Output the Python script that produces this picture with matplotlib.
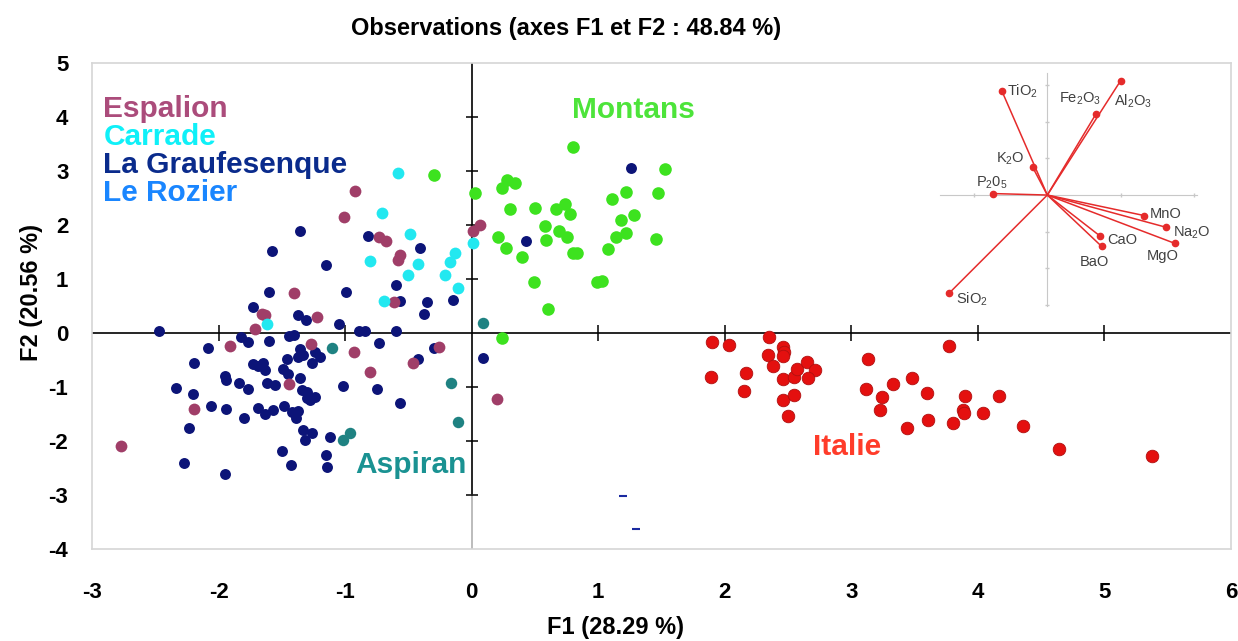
import matplotlib
matplotlib.use("Agg")
import matplotlib.pyplot as plt

plt.rcParams['font.family'] = ['Liberation Sans', 'DejaVu Sans']
plt.rcParams['mathtext.default'] = 'regular'
plt.rcParams['axes.unicode_minus'] = False

# Scores on F1 / F2 per production site
grauf_x = [-1.36, -1.58, -1.15, -0.82, -0.41, -1.60, -0.99, -0.60, -0.57, -0.35, -0.15, -1.73, -1.37, -1.31, -0.38,
           -1.05, -2.47, -0.89, -0.84, -0.60, -1.82, -1.77, -1.60, -1.44, -1.40, -0.73, -2.08, -2.19, -1.36, -1.33,
           -1.37, -1.24, -1.20, -1.26, -1.46, -1.49, -1.45, -1.73, -1.65, -1.63, -1.69, -1.95, -1.94, -1.84, -1.77,
           -2.34, -2.20, -1.62, -1.55, -1.36, -1.34, -1.30, -1.28, -1.24, -1.30, -1.02, -0.75, -0.42, -0.30, -0.57,
           -2.06, -1.94, -1.80, -1.69, -1.63, -1.57, -1.48, -1.42, -1.37, -1.39, -2.23, -1.33, -1.26, -1.32, -1.12,
           -1.50, -1.43, -1.15, -1.14, -2.27, -1.95, 0.09, 1.26, 0.43]
grauf_y = [1.89, 1.52, 1.26, 1.80, 1.57, 0.76, 0.76, 0.88, 0.59, 0.57, 0.61, 0.49, 0.33, 0.25, 0.35,
           0.16, 0.04, 0.04, 0.04, 0.04, -0.07, -0.16, -0.14, -0.06, -0.04, -0.18, -0.28, -0.55, -0.30, -0.41,
           -0.44, -0.35, -0.44, -0.56, -0.49, -0.67, -0.75, -0.57, -0.56, -0.69, -0.62, -0.80, -0.87, -0.92, -1.04,
           -1.02, -1.13, -0.92, -0.96, -0.84, -1.06, -1.09, -1.24, -1.18, -1.21, -0.99, -1.04, -0.49, -0.28, -1.29,
           -1.35, -1.40, -1.58, -1.38, -1.50, -1.43, -1.35, -1.46, -1.44, -1.58, -1.75, -1.80, -1.85, -1.99, -1.93,
           -2.18, -2.44, -2.25, -2.48, -2.41, -2.62, -0.46, 3.05, 1.70]

espalion_x = [-0.92, -1.01, -0.73, -0.68, -0.57, -0.58, -1.40, -0.61, -1.22, -1.63, -1.66, -1.71, 0.07, 0.01,
              -1.91, -1.27, -0.93, -0.80, -0.46, -0.26, -1.44, -2.19, -2.77, 0.20]
espalion_y = [2.63, 2.14, 1.78, 1.70, 1.44, 1.35, 0.75, 0.58, 0.30, 0.33, 0.35, 0.07, 2.00, 1.88,
              -0.24, -0.20, -0.36, -0.72, -0.56, -0.25, -0.94, -1.41, -2.09, -1.23]

carrade_x = [-0.58, -0.71, -0.49, -0.80, -0.42, -0.13, -0.17, -0.21, -0.50, -0.11, -0.69, 0.01, -1.62]
carrade_y = [2.97, 2.23, 1.83, 1.34, 1.28, 1.49, 1.32, 1.07, 1.07, 0.83, 0.59, 1.66, 0.16]

aspiran_x = [-1.10, -0.16, -0.11, -1.02, -0.96, 0.09]
aspiran_y = [-0.28, -0.92, -1.64, -1.98, -1.86, 0.19]

rozier_x = [1.20, 1.30]
rozier_y = [-3.02, -3.63]

montans_x = [-0.30, 0.03, 0.80, 1.53, 1.47, 0.28, 0.34, 0.24, 0.30, 0.50, 0.67, 0.74, 0.78, 0.58, 0.59, 0.69,
             0.75, 0.80, 0.83, 0.21, 0.27, 0.40, 0.49, 0.60, 0.99, 1.03, 1.11, 1.22, 1.18, 1.28, 1.14, 1.22,
             1.08, 1.46, 0.24]
montans_y = [2.93, 2.60, 3.44, 3.03, 2.60, 2.83, 2.78, 2.68, 2.29, 2.31, 2.29, 2.39, 2.20, 1.98, 1.72, 1.88,
             1.78, 1.49, 1.48, 1.78, 1.57, 1.40, 0.95, 0.44, 0.94, 0.96, 2.49, 2.62, 2.09, 2.18, 1.77, 1.86,
             1.56, 1.74, -0.10]

italie_x = [1.90, 2.03, 1.89, 2.17, 2.15, 2.35, 2.34, 2.38, 2.46, 2.47, 2.46, 2.46, 2.55, 2.57, 2.65, 2.71,
            2.66, 2.46, 2.55, 2.50, 3.13, 3.12, 3.24, 3.23, 3.33, 3.48, 3.44, 3.60, 3.61, 3.77, 3.80, 3.90,
            3.88, 3.89, 4.04, 4.17, 4.36, 4.64, 5.38]
italie_y = [-0.16, -0.22, -0.82, -0.74, -1.07, -0.08, -0.40, -0.62, -0.25, -0.35, -0.42, -0.86, -0.82, -0.67,
            -0.53, -0.69, -0.84, -1.24, -1.15, -1.53, -0.48, -1.04, -1.18, -1.43, -0.94, -0.83, -1.75, -1.11,
            -1.62, -0.24, -1.66, -1.17, -1.43, -1.49, -1.49, -1.17, -1.72, -2.15, -2.28]

# Variable loadings for the small correlation biplot
var_names = ['TiO$_2$', 'Al$_2$O$_3$', 'Fe$_2$O$_3$', 'K$_2$O', 'P$_2$0$_5$', 'MnO', 'Na$_2$O', 'MgO', 'CaO',
             'BaO', 'SiO$_2$']
load_x = [-0.31, 0.50, 0.33, -0.10, -0.37, 0.66, 0.81, 0.87, 0.36, 0.37, -0.67]
load_y = [0.71, 0.78, 0.55, 0.19, 0.01, -0.14, -0.22, -0.33, -0.28, -0.35, -0.67]
# label placement: offset in points and alignment
label_pos = [((4, 0), 'left', 'center'), ((9, -15), 'center', 'center'), ((-11, 11), 'center', 'center'),
             ((-6, 6), 'right', 'center'), ((-1, 8), 'center', 'center'), ((4, 1), 'left', 'center'),
             ((5, -4), 'left', 'center'), ((-9, -9), 'center', 'center'), ((5, -3), 'left', 'center'),
             ((-5, -11), 'center', 'center'), ((5, -4), 'left', 'center')]

fig = plt.figure(figsize=(12.38, 6.41), dpi=100)
ax = fig.add_axes([0.0743, 0.1435, 0.92, 0.7582])
ax.set_xlim(-3, 6)
ax.set_ylim(-4, 5)

for sp in ax.spines.values():
    sp.set_color('#d6d6d6')
    sp.set_linewidth(1.2)

ax.set_xticks(range(-3, 7))
ax.set_yticks(range(-4, 6))
ax.tick_params(axis='x', length=0, pad=24, labelsize=16)
ax.tick_params(axis='y', length=0, pad=17, labelsize=16)
for lab in ax.get_xticklabels() + ax.get_yticklabels():
    lab.set_fontweight('bold')

# axes through the origin with cross ticks
ax.plot([-3, 6], [0, 0], color='black', lw=1.2, zorder=1)
ax.plot([0, 0], [-3, 5], color='black', lw=1.2, zorder=1)
ax.plot([0, 0], [-4, -3], color='#b0b0b0', lw=1.2, zorder=1)
xt = [v for v in range(-2, 6) if v != 0]
yt = [v for v in range(-3, 5) if v != 0]
ax.plot(xt, [0] * len(xt), ls='none', marker='|', ms=11, mew=1.1, color='black', zorder=1)
ax.plot([0] * len(yt), yt, ls='none', marker='_', ms=9, mew=1.1, color='black', zorder=1)

ax.scatter(grauf_x, grauf_y, s=62, color='#0c1478', lw=0, zorder=3)
ax.scatter(espalion_x, espalion_y, s=72, color='#a03e68', lw=0, zorder=3)
ax.scatter(carrade_x, carrade_y, s=72, color='#22e8f0', lw=0, zorder=3)
ax.scatter(aspiran_x, aspiran_y, s=68, color='#1f8282', lw=0, zorder=3)
ax.scatter(rozier_x, rozier_y, s=40, marker='_', color='#1a2aa0', lw=1.5, zorder=3)
ax.scatter(montans_x, montans_y, s=82, color='#3de21f', lw=0, zorder=3)
ax.scatter(italie_x, italie_y, s=82, color='#e4100f', edgecolor='#b01010', lw=0.6, zorder=3)

bold = dict(fontsize=21.5, fontweight='bold', va='center', ha='left')
ax.text(-2.91, 4.15, 'Espalion', color='#ab4c7b', **bold)
ax.text(-2.91, 3.63, 'Carrade', color='#0ff0f8', **bold)
ax.text(-2.91, 3.11, 'La Graufesenque', color='#0a2b8c', **bold)
ax.text(-2.91, 2.59, 'Le Rozier', color='#1a86ff', **bold)
ax.text(0.79, 4.13, 'Montans', color='#4de43a', **bold)
ax.text(-0.92, -2.44, 'Aspiran', color='#1a9292', **bold)
ax.text(2.70, -2.11, 'Italie', color='#ff3c2a', **bold)

ax.set_xlabel('F1 (28.29 %)', fontsize=17, fontweight='bold')
ax.set_ylabel('F2 (20.56 %)', fontsize=17, fontweight='bold')
ax.xaxis.set_label_coords(0.46, -0.137)
ax.yaxis.set_label_coords(-0.043, 0.527)

fig.text(566 / 1238, 1 - 28 / 641, 'Observations (axes F1 et F2 : 48.84 %)',
         fontsize=17, fontweight='bold', ha='center', va='center')

# correlation circle inset
ins = fig.add_axes([0.7571, 0.5173, 0.2121, 0.3729])
ins.set_xlim(-0.75, 1.04)
ins.set_ylim(-0.78, 0.85)
ins.axis('off')
ins.plot([-0.73, 1.02], [0, 0], color='#c8c8c8', lw=0.8, zorder=1)
ins.plot([0, 0], [-0.76, 0.83], color='#c8c8c8', lw=0.8, zorder=1)
ins.plot([-0.5, 0.5, 1.0], [0, 0, 0], ls='none', marker='|', ms=3, color='#c8c8c8')
ins.plot([0] * 6, [-0.5, -0.25, 0.25, 0.5, 0.75, -0.75], ls='none', marker='_', ms=3, color='#c8c8c8')
for name, lx, ly, (off, ha, va) in zip(var_names, load_x, load_y, label_pos):
    ins.plot([0, lx], [0, ly], color='#e52b2b', lw=1.1, zorder=2)
    ins.plot(lx, ly, marker='o', ms=4.5, color='#e52b2b', zorder=3)
    ins.annotate(name, (lx, ly), xytext=off, textcoords='offset points', ha=ha, va=va,
                 fontsize=10.5, color='#404040')

fig.savefig('out.png', dpi=100)
